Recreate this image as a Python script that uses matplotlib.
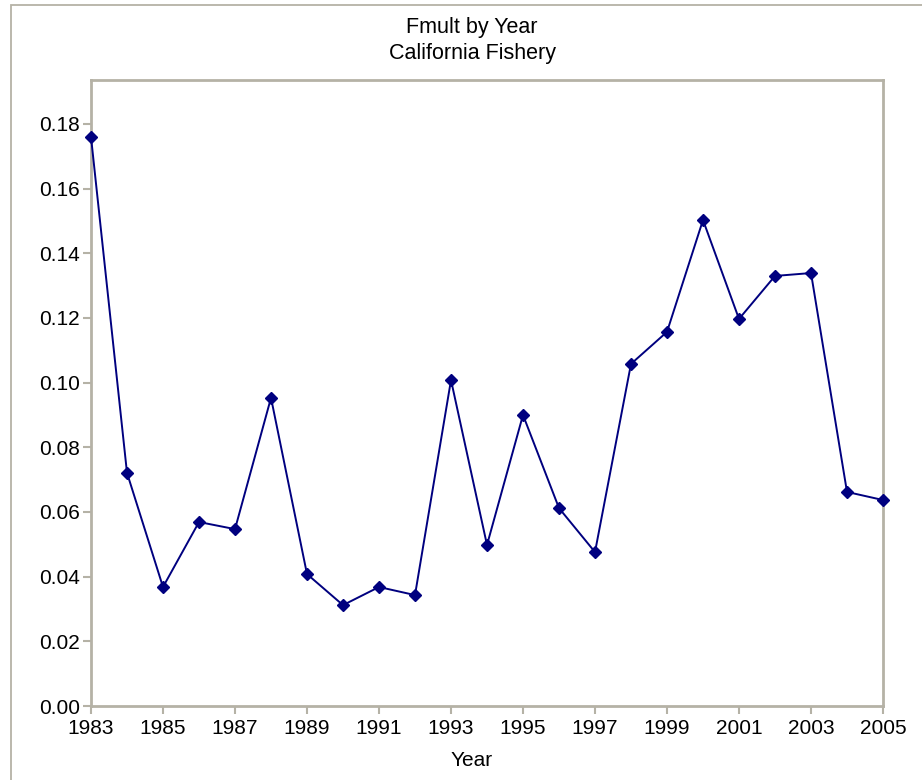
import matplotlib.pyplot as plt
from matplotlib.patches import Rectangle

plt.rcParams['font.family'] = ['Liberation Sans', 'DejaVu Sans']

years = list(range(1983, 2006))
fmult = [0.1760, 0.0721, 0.0368, 0.0569, 0.0547, 0.0953, 0.0408, 0.0312,
         0.0368, 0.0343, 0.1008, 0.0498, 0.0900, 0.0612, 0.0476, 0.1058,
         0.1157, 0.1503, 0.1197, 0.1330, 0.1339, 0.0662, 0.0637]
xticks = list(range(1983, 2006, 2))
yticks = [0.00, 0.02, 0.04, 0.06, 0.08, 0.10, 0.12, 0.14, 0.16, 0.18]

frame = '#b5b2a6'
navy = '#00007f'

fig = plt.figure(figsize=(9.22, 7.8), dpi=100)
# outer border of the chart area
fig.patches.append(Rectangle((10.5 / 922, -0.1), 2, 1 - 5.5 / 780 + 0.1,
                             transform=fig.transFigure, fill=False,
                             edgecolor=frame, linewidth=1.3))

ax = fig.add_axes([91 / 922, 1 - 706 / 780, (883 - 91) / 922, (706 - 80) / 780])
ax.plot(years, fmult, color=navy, linewidth=1.4, marker='D', markersize=6.5,
        clip_on=False, zorder=3)

ax.set_xlim(1983, 2005)
ax.set_ylim(0, 0.1936)
ax.set_xticks(xticks)
ax.set_yticks(yticks)
ax.set_yticklabels(['%.2f' % v for v in yticks])

for s in ax.spines.values():
    s.set_color(frame)
    s.set_linewidth(2)
ax.tick_params(direction='out', length=6, width=1.5, color=frame,
               labelsize=15, pad=2)
ax.tick_params(axis='x', pad=3)

# titles and x label are centred on the outer frame, not the plot area
cx = 472 / 922
fig.text(cx, 1 - 760 / 780, 'Year', ha='center', va='center', fontsize=15)
fig.text(cx, 1 - 28 / 780, 'Fmult by Year', ha='center', va='center', fontsize=15.5)
fig.text(cx, 1 - 53 / 780, 'California Fishery', ha='center', va='center', fontsize=15.5)

fig.savefig('out.png', dpi=100)
